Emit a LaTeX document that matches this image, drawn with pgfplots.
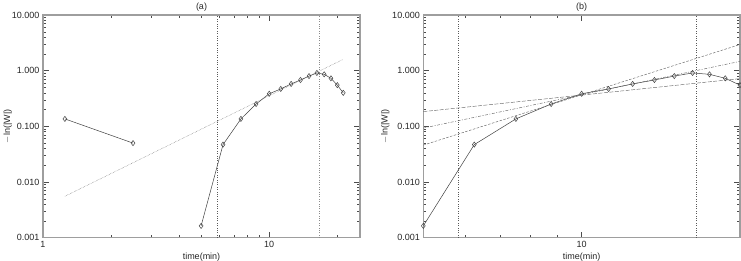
\documentclass[border=0pt]{standalone}
\usepackage{fontspec}
\setmainfont{Liberation Sans}
\usepackage{pgfplots}
\pgfplotsset{compat=1.18}
\definecolor{axgray}{gray}{0.62}
\definecolor{dline}{gray}{0.25}
\definecolor{fline}{gray}{0.40}
\definecolor{vline}{gray}{0.35}
\begin{document}
\begin{tikzpicture}
\useasboundingbox (0pt,0pt) rectangle (741pt,261pt);
% ---------------- panel (a)
\begin{axis}[
  xmode=log, ymode=log,
  scale only axis,
  height=222.7pt,
  ymin=0.001, ymax=10,
  ytick={0.001,0.01,0.1,1,10},
  yticklabels={0.001,0.010,0.100,1.000,10.000},
  minor ytick={0.002,0.003,0.004,0.005,0.006,0.007,0.008,0.009,
               0.02,0.03,0.04,0.05,0.06,0.07,0.08,0.09,
               0.2,0.3,0.4,0.5,0.6,0.7,0.8,0.9,
               2,3,4,5,6,7,8,9},
  tick align=inside,
  major tick length=6pt, minor tick length=3pt,
  tick style={color=black!70, line width=0.5pt},
  axis line style={color=axgray, line width=1.3pt},
  ticklabel style={font=\fontsize{9}{10}\selectfont, color=black!85},
  label style={font=\fontsize{9}{10}\selectfont, color=black!85},
  every axis title shift=0pt,
  title style={font=\fontsize{9}{10}\selectfont, color=black!85, at={(axis description cs:0.5,1)}, anchor=center, yshift=8pt},
  xlabel={time(min)},
  ylabel={$-$ln(|W|)},
  xlabel style={at={(axis description cs:0.5,0)}, anchor=center, yshift=-19pt},
  at={(43pt,23.3pt)}, anchor=south west,
  width=317pt,
  xmin=1, xmax=25.2,
  xtick={1,10}, xticklabels={1,10},
  minor xtick={2,3,4,5,6,7,8,9,20},
  ylabel style={at={(axis description cs:-0.111,0.5)}, anchor=center, rotate=0},
  title={(a)},
]
\addplot[dline, line width=0.5pt, mark=diamond, mark size=2.6pt, mark options={solid, line width=0.5pt}]
  coordinates {(1.25,0.136) (2.5,0.050)};
\addplot[dline, line width=0.5pt, mark=diamond, mark size=2.6pt, mark options={solid, line width=0.5pt}]
  coordinates {(5,0.00163) (6.25,0.047) (7.5,0.136) (8.75,0.252) (10,0.385)
  (11.25,0.47) (12.5,0.578) (13.75,0.68) (15,0.80) (16.25,0.91) (17.5,0.86)
  (18.75,0.73) (20,0.55) (21.25,0.40)};
\addplot[fline, line width=0.45pt, densely dotted] coordinates {(1.25,0.00555) (21.25,1.60)};
\addplot[vline, line width=0.4pt, dotted] coordinates {(5.87,0.001) (5.87,10)};
\addplot[vline!70, line width=0.4pt, dotted] coordinates {(16.6,0.001) (16.6,10)};
\end{axis}
% ---------------- panel (b)
\begin{axis}[
  xmode=log, ymode=log,
  scale only axis,
  height=222.7pt,
  ymin=0.001, ymax=10,
  ytick={0.001,0.01,0.1,1,10},
  yticklabels={0.001,0.010,0.100,1.000,10.000},
  minor ytick={0.002,0.003,0.004,0.005,0.006,0.007,0.008,0.009,
               0.02,0.03,0.04,0.05,0.06,0.07,0.08,0.09,
               0.2,0.3,0.4,0.5,0.6,0.7,0.8,0.9,
               2,3,4,5,6,7,8,9},
  tick align=inside,
  major tick length=6pt, minor tick length=3pt,
  tick style={color=black!70, line width=0.5pt},
  axis line style={color=axgray, line width=1.3pt},
  ticklabel style={font=\fontsize{9}{10}\selectfont, color=black!85},
  label style={font=\fontsize{9}{10}\selectfont, color=black!85},
  every axis title shift=0pt,
  title style={font=\fontsize{9}{10}\selectfont, color=black!85, at={(axis description cs:0.5,1)}, anchor=center, yshift=8pt},
  xlabel={time(min)},
  ylabel={$-$ln(|W|)},
  xlabel style={at={(axis description cs:0.5,0)}, anchor=center, yshift=-19pt},
  at={(423.3pt,23.3pt)}, anchor=south west,
  width=316.7pt,
  xmin=5, xmax=20,
  xtick={10}, xticklabels={10},
  minor xtick={6,7,8,9,20},
  ylabel style={at={(axis description cs:-0.12,0.5)}, anchor=center, rotate=0},
  title={(b)},
]
\addplot[dline, line width=0.5pt, mark=diamond, mark size=2.6pt, mark options={solid, line width=0.5pt}]
  coordinates {(5,0.00163) (6.25,0.047) (7.5,0.136) (8.75,0.252) (10,0.385)
  (11.25,0.47) (12.5,0.578) (13.75,0.68) (15,0.80) (16.25,0.91) (17.5,0.86)
  (18.75,0.73) (20,0.55) (21.25,0.40)};
\addplot[fline, line width=0.45pt, dash pattern=on 4pt off 1.5pt] coordinates {(5,0.184) (20,0.72)};
\addplot[fline, line width=0.45pt, dash pattern=on 3pt off 1.5pt on 1pt off 1.5pt] coordinates {(5,0.093) (20,1.47)};
\addplot[fline, line width=0.45pt, dash pattern=on 2.5pt off 1.5pt] coordinates {(5,0.046) (20,2.95)};
\addplot[vline, line width=0.4pt, dotted] coordinates {(5.82,0.001) (5.82,10)};
\addplot[vline, line width=0.4pt, dotted] coordinates {(16.5,0.001) (16.5,10)};
\end{axis}
\end{tikzpicture}
\end{document}
